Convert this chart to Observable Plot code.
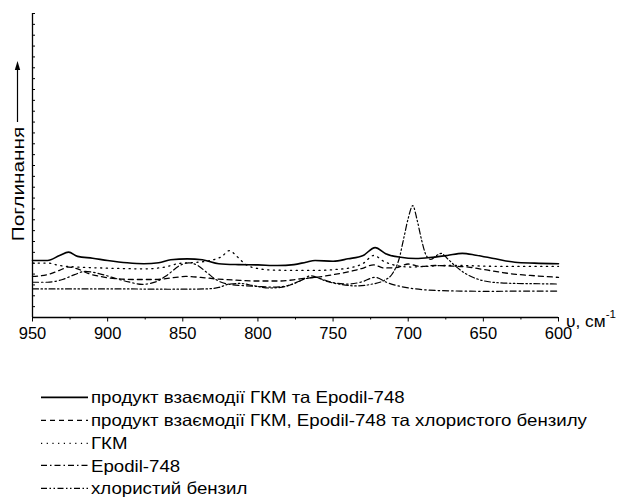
<!DOCTYPE html>
<html><head><meta charset="utf-8">
<script src="https://cdn.jsdelivr.net/npm/d3@7"></script>
<script src="https://cdn.jsdelivr.net/npm/@observablehq/plot@0.6"></script>
<style>
body{margin:0;background:#fff;font-family:"Liberation Sans",Arial,sans-serif;color:#000;}
#wrap{position:relative;width:621px;height:504px;overflow:hidden;background:#fff;}
#chart{position:absolute;left:0;top:0;}
#ylab{position:absolute;left:17.5px;top:184px;transform:translate(-50%,-50%) rotate(-90deg) scaleX(1.22);font-size:17px;white-space:nowrap;line-height:1;}
#arrow{position:absolute;left:0;top:0;}
#xlab{position:absolute;left:566px;top:311px;font-size:16.5px;white-space:nowrap;line-height:1;transform:scaleX(1.05);transform-origin:left center;}
#xlab sup{font-size:11px;position:relative;top:-2px;}
#legend{position:absolute;left:0;top:386px;}
.row{position:relative;height:22.75px;width:621px;}
.row svg{position:absolute;left:0;top:0;}
.row span{position:absolute;left:91px;top:50%;transform:translateY(-50%) scaleX(1.13);transform-origin:left center;font-size:16.5px;white-space:nowrap;line-height:1;}
</style></head>
<body><div id="wrap"><div id="chart"></div>
<svg id="arrow" width="40" height="140"></svg>
<div id="ylab">Поглинання</div>
<div id="xlab">υ, см<sup>-1</sup></div>
<div id="legend"></div>
</div>
<script>
// Series names
const names = [
  "продукт взаємодії ГКМ та Epodil-748",
  "продукт взаємодії ГКМ, Epodil-748 та хлористого бензилу",
  "ГКМ",
  "Epodil-748",
  "хлористий бензил"
];
// Product GKM + Epodil-748 (solid)
const wnProduct = [950,940,932,926,920,910,900,887,876,866,858,847,837,826,813,800,787,776,768,762,750,740,730,722,715,705,695,684,674,664,655,642,629,616,600];
const absProduct = [.1875,.1875,.204,.215,.201,.195,.1875,.180,.177,.180,.190,.193,.190,.177,.174,.173,.171,.174,.182,.1875,.185,.193,.204,.230,.210,.198,.194,.198,.204,.211,.205,.193,.182,.179,.177];
// Product GKM + Epodil-748 + benzyl chloride (dashed)
const wnProductBz = [950,940,932,926,920,913,905,895,882,868,858,848,838,828,815,800,785,772,760,750,740,731,723,716,708,700,692,682,670,660,650,640,630,615,600];
const absProductBz = [.135,.141,.155,.166,.160,.145,.135,.128,.125,.125,.130,.135,.132,.127,.123,.120,.120,.127,.133,.141,.150,.161,.173,.163,.164,.176,.168,.171,.169,.166,.158,.150,.143,.137,.132];
// GKM (dotted)
const wnGKM = [950,940,932,920,905,890,875,862,852,842,832,824,819,814,808,800,790,775,760,748,738,730,723,716,708,698,688,678,665,650,635,620,600];
const absGKM = [.179,.179,.171,.166,.163,.161,.160,.166,.178,.181,.1875,.201,.220,.201,.174,.161,.156,.155,.155,.158,.164,.178,.204,.184,.171,.166,.168,.171,.171,.169,.168,.168,.168];
// Epodil-748 (dash-dot)
const wnEpodil = [950,940,930,922,915,907,897,886,877,868,860,852,846,840,834,827,819,810,800,790,780,772,765,758,750,740,731,722,714,705,695,682,665,645,625,600];
const absEpodil = [.116,.116,.125,.141,.152,.146,.132,.117,.109,.117,.141,.171,.180,.171,.148,.122,.109,.105,.102,.100,.105,.120,.137,.127,.115,.110,.117,.132,.115,.102,.094,.089,.087,.086,.087,.087];
// Benzyl chloride (dash-dot-dot)
const wnBenzyl = [950,920,890,860,835,826,819,812,803,793,785,776,768,762,755,745,735,725,716,710,706,703,700,697,694,691,688,685,681,678,674,669,662,653,642,628,612,600];
const absBenzyl = [.094,.094,.094,.093,.094,.099,.110,.112,.105,.097,.099,.112,.128,.132,.120,.109,.104,.109,.122,.148,.194,.260,.326,.368,.319,.253,.204,.191,.204,.211,.194,.171,.145,.125,.115,.112,.111,.110];
// Axis ticks
const xMajorTicks = [950,900,850,800,750,700,650,600];
const xMinorTicks = [925,875,825,775,725,675,625];
const yTicks = d3.range(0, 29).map(i => i / 28);

const styles = [
  {dash: null, width: 1.6},
  {dash: "5,4", width: 1.3},
  {dash: "1.2,4.5", width: 1.3},
  {dash: "6,3,1.5,3", width: 1.2},
  {dash: "6,2.5,1.5,2.5,1.5,2.5", width: 1.2}
];
const wns = [wnProduct, wnProductBz, wnGKM, wnEpodil, wnBenzyl];
const abss = [absProduct, absProductBz, absGKM, absEpodil, absBenzyl];
const rows = names.flatMap((n, k) => wns[k].map((w, i) => ({series: n, wn: w, a: abss[k][i]})));

const chart = Plot.plot({
  width: 621, height: 360,
  marginTop: 13, marginBottom: 43, marginLeft: 32, marginRight: 63,
  x: {domain: [950, 600], label: null},
  y: {domain: [0, 1], label: null},
  style: {fontFamily: "Liberation Sans, Arial, sans-serif", fontSize: "16.5px", color: "#000", background: "#fff"},
  marks: [
    Plot.axisX({ticks: xMinorTicks, tickSize: 2.5, tickFormat: () => "", label: null}),
    Plot.axisX({ticks: xMajorTicks, tickSize: 4.5, tickPadding: 5, label: null}),
    Plot.axisY({ticks: yTicks, tickSize: 3, dx: 3, tickFormat: () => "", label: null}),
    Plot.ruleX([950], {stroke: "#000", strokeWidth: 1.3}),
    Plot.ruleY([0], {stroke: "#000", strokeWidth: 1.3}),
    ...names.map((n, k) => Plot.line(rows.filter(d => d.series === n), {
      x: "wn", y: "a", stroke: "#000", strokeWidth: styles[k].width,
      strokeDasharray: styles[k].dash, curve: "monotone-x"
    }))
  ]
});
document.getElementById("chart").appendChild(chart);

// y label arrow
const arrow = d3.select("#arrow");
arrow.append("line").attr("x1", 17.5).attr("x2", 17.5).attr("y1", 122).attr("y2", 68).attr("stroke", "#000").attr("stroke-width", 1.2);
arrow.append("path").attr("d", "M17.5,61 L14.8,70 L20.2,70 Z").attr("fill", "#000");

// legend
const leg = d3.select("#legend");
names.forEach((n, k) => {
  const r = leg.append("div").attr("class", "row");
  const s = r.append("svg").attr("width", 95).attr("height", 22.75);
  s.append("line").attr("x1", 41).attr("x2", 88).attr("y1", 11.4).attr("y2", 11.4)
    .attr("stroke", "#000").attr("stroke-width", styles[k].width)
    .attr("stroke-dasharray", styles[k].dash);
  r.append("span").text(n);
});
</script>
</body></html>
